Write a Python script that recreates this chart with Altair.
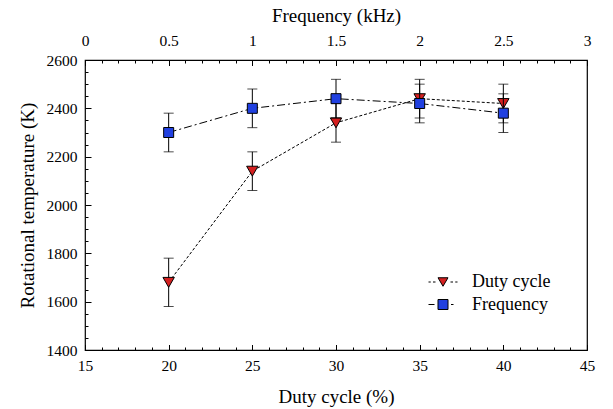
import altair as alt
import pandas as pd

# ---- data ----
duty_cycle = [20, 25, 30, 35, 40]
duty_temp = [1680, 2140, 2340, 2440, 2420]
duty_err = [100, 80, 80, 80, 80]

freq_khz = [0.5, 1.0, 1.5, 2.0, 2.5]
freq_temp = [2300, 2400, 2440, 2420, 2380]
freq_err = [80, 80, 80, 80, 80]

series_names = ["Duty cycle", "Frequency"]
series_fill = ["#d42020", "#2040e0"]

y_values = list(range(1400, 2601, 50))
xb_major = [15, 20, 25, 30, 35, 40, 45]
xb_all = list(range(15, 46))
xt_major = [0, 0.5, 1, 1.5, 2, 2.5, 3]

FONT = "Liberation Serif, Times New Roman, serif"

duty_df = pd.DataFrame({
    "x": duty_cycle, "t": duty_temp,
    "lo": [t - e for t, e in zip(duty_temp, duty_err)],
    "hi": [t + e for t, e in zip(duty_temp, duty_err)],
    "series": "Duty cycle",
})
freq_df = pd.DataFrame({
    "x": freq_khz, "t": freq_temp,
    "lo": [t - e for t, e in zip(freq_temp, freq_err)],
    "hi": [t + e for t, e in zip(freq_temp, freq_err)],
    "series": "Frequency",
})
legend_df = pd.DataFrame({"x": [20, 25], "t": [2000, 2000], "series": series_names})

common = dict(labelFont=FONT, labelFontSize=15.5, labelColor="black",
              titleFont=FONT, titleFontSize=19, titleFontWeight="normal", titleColor="black",
              domain=False, ticks=False, labelOverlap=False, labelFlush=False)

yscale = alt.Scale(domain=[1400, 2600], nice=False, zero=False)
yaxis = alt.Axis(
    values=y_values, title="Rotational temperature (K)",
    labelExpr="datum.value % 200 === 0 ? toString(datum.value) : ''",
    grid=True, gridColor="black", gridOpacity=1, gridWidth=1,
    gridDash={"condition": {"test": "datum.value % 200 === 0", "value": [6, 2000]},
              "value": [3, 2000]},
    labelPadding=8, titlePadding=9, **common,
)
Y = lambda f: alt.Y(f, scale=yscale, axis=yaxis)

DUTY_PATH = "M-2.9,0L-2.45,0M-2.0,0L-1.5,0M-1,-0.85L1,-0.85L0,0.85ZM1.5,0L2.0,0M2.45,0L2.9,0"
FREQ_PATH = "M-2.9,0L-1.7,0M-1,-1L1,-1L1,1L-1,1ZM1.6,0L2.1,0"
legend = alt.Legend(
    title=None, orient="none", legendX=349, legendY=213,
    labelFont=FONT, labelFontSize=18, labelColor="black",
    symbolSize=100, labelOffset=20, rowPadding=4.5,
    symbolStrokeWidth=1, symbolOpacity=1,
)
fill_scale = alt.Scale(domain=series_names, range=series_fill)
shape_scale = alt.Scale(domain=series_names, range=[DUTY_PATH, FREQ_PATH])
stroke_scale = alt.Scale(domain=series_names, range=["black", "black"])

# ---- duty cycle (bottom axis) ----
xb_scale = alt.Scale(domain=[15, 45], nice=False, zero=False)
xb_label_axis = alt.Axis(
    orient="bottom", values=xb_major, title="Duty cycle (%)", grid=False,
    labelExpr="toString(datum.value)", labelPadding=8, titlePadding=14, **common,
)
xb_grid_axis = alt.Axis(
    orient="bottom", values=xb_all, title=None, labels=False, domain=False, ticks=False,
    grid=True, gridColor="black", gridOpacity=1, gridWidth=1,
    gridDash={"condition": {"test": "datum.value % 5 === 0", "value": [5.5, 279, 5.5, 1000]},
              "value": [3, 284, 3, 1000]},
)
XN = alt.X("x:Q", scale=xb_scale, axis=None)

dbase = alt.Chart(duty_df)
d_rule = dbase.mark_rule(color="black", strokeWidth=1).encode(
    x=alt.X("x:Q", scale=xb_scale, axis=xb_label_axis), y=Y("lo:Q"), y2="hi:Q")
d_tlo = dbase.mark_tick(color="black", thickness=1, size=10, orient="horizontal").encode(
    x=alt.X("x:Q", scale=xb_scale, axis=xb_grid_axis), y=Y("lo:Q"))
d_thi = dbase.mark_tick(color="black", thickness=1, size=10, orient="horizontal").encode(
    x=XN, y=Y("hi:Q"))
d_line = dbase.mark_line(color="black", strokeWidth=1, strokeDash=[3, 2]).encode(
    x=XN, y=Y("t:Q"))
leg = alt.Chart(legend_df).mark_point(filled=True, size=100, strokeWidth=1, opacity=0).encode(
    x=XN, y=Y("t:Q"),
    fill=alt.Fill("series:N", scale=fill_scale, legend=legend),
    shape=alt.Shape("series:N", scale=shape_scale, legend=legend),
    stroke=alt.Stroke("series:N", scale=stroke_scale, legend=legend),
)
d_pts = dbase.mark_point(filled=True, size=130, stroke="black", strokeWidth=1, opacity=1,
                         shape="triangle-down").encode(
    x=XN, y=Y("t:Q"), fill=alt.Fill("series:N", scale=fill_scale, legend=legend))
duty_layer = alt.layer(leg, d_rule, d_tlo, d_thi, d_line, d_pts).resolve_axis(x="independent")

# ---- frequency (top axis) ----
xt_scale = alt.Scale(domain=[0, 3], nice=False, zero=False)
xt_axis = alt.Axis(
    orient="top", values=xt_major, title="Frequency (kHz)",
    labelExpr="toString(datum.value)", grid=False,
    labelPadding=12, titlePadding=8, **common,
)
xt = alt.X("x:Q", scale=xt_scale, axis=xt_axis)

fbase = alt.Chart(freq_df)
f_rule = fbase.mark_rule(color="black", strokeWidth=1).encode(x=xt, y=Y("lo:Q"), y2="hi:Q")
f_tlo = fbase.mark_tick(color="black", thickness=1, size=10, orient="horizontal").encode(
    x="x:Q", y=Y("lo:Q"))
f_thi = fbase.mark_tick(color="black", thickness=1, size=10, orient="horizontal").encode(
    x="x:Q", y=Y("hi:Q"))
f_line = fbase.mark_line(color="black", strokeWidth=1, strokeDash=[8, 3, 2, 3]).encode(
    x="x:Q", y=Y("t:Q"))
f_pts = fbase.mark_point(filled=True, size=100, stroke="black", strokeWidth=1, opacity=1,
                         shape="square").encode(
    x="x:Q", y=Y("t:Q"), fill=alt.Fill("series:N", scale=fill_scale, legend=legend))
freq_layer = alt.layer(f_rule, f_tlo, f_thi, f_line, f_pts)

chart = alt.layer(duty_layer, freq_layer).resolve_scale(x="independent").properties(
    width=502, height=290,
    autosize=alt.AutoSizeParams(type="none"),
    padding={"left": 85, "top": 60, "right": 26, "bottom": 59},
    background="white",
).configure_view(stroke="black", strokeWidth=1.2)

chart.save("out.html", embed_options={"renderer": "svg", "actions": False})
